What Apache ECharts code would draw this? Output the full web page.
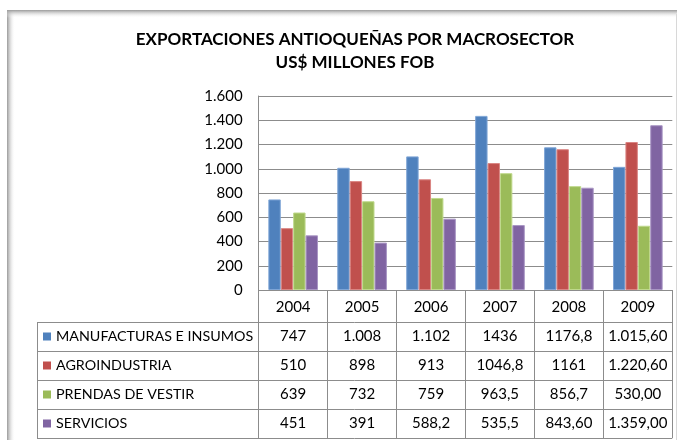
<!DOCTYPE html>
<html>
<head>
<meta charset="utf-8">
<script src="https://cdn.jsdelivr.net/npm/echarts@6/dist/echarts.min.js"></script>
<style>
html,body{margin:0;padding:0;background:#fff;}
#c{width:677px;height:440px;}
</style>
</head>
<body>
<div id="c"></div>
<script>
const years = ['2004', '2005', '2006', '2007', '2008', '2009'];
const seriesNames = ['MANUFACTURAS E INSUMOS', 'AGROINDUSTRIA', 'PRENDAS DE VESTIR', 'SERVICIOS'];
const manufacturas = [747, 1008, 1102, 1436, 1176.8, 1015.6];
const agroindustria = [510, 898, 913, 1046.8, 1161, 1220.6];
const prendas = [639, 732, 759, 963.5, 856.7, 530];
const servicios = [451, 391, 588.2, 535.5, 843.6, 1359];
const manufacturasText = ['747', '1.008', '1.102', '1436', '1176,8', '1.015,60'];
const agroindustriaText = ['510', '898', '913', '1046,8', '1161', '1.220,60'];
const prendasText = ['639', '732', '759', '963,5', '856,7', '530,00'];
const serviciosText = ['451', '391', '588,2', '535,5', '843,60', '1.359,00'];
const yMin = 0, yMax = 1600, yStep = 200;

const colors = ['#4F81BD', '#C0504D', '#9BBB59', '#8064A2'];
const borders = ['#7FA5D6', '#DA8583', '#BFD98C', '#A996C4'];
const allValues = [manufacturas, agroindustria, prendas, servicios];
const allText = [manufacturasText, agroindustriaText, prendasText, serviciosText];
const FONT = 'Lato, "Open Sans", sans-serif';
const gridColor = '#8C8C8C';

const chart = echarts.init(document.getElementById('c'), null, {renderer: 'canvas'});

function fmt(v) {
  return String(v).replace(/\B(?=(\d{3})+(?!\d))/g, '.');
}

const option = {
  animation: false,
  backgroundColor: '#fff',
  title: {
    text: 'EXPORTACIONES ANTIOQUEÑAS POR MACROSECTOR\nUS$ MILLONES FOB',
    left: 350, top: 23, textAlign: 'center',
    textStyle: {fontFamily: FONT, fontWeight: 'bold', fontSize: 17, color: '#000', lineHeight: 23}
  },
  grid: {left: 258.7, right: 4.7, top: 96, bottom: 150, containLabel: false},
  xAxis: {
    type: 'category', data: years,
    axisLine: {show: true, lineStyle: {color: gridColor, width: 1}},
    axisTick: {show: true, length: 148, alignWithLabel: false, lineStyle: {color: gridColor, width: 1}},
    axisLabel: {fontFamily: FONT, fontSize: 15, color: '#000', margin: 10}
  },
  yAxis: {
    type: 'value', min: yMin, max: yMax, interval: yStep,
    axisLine: {show: true, lineStyle: {color: gridColor, width: 1}},
    axisTick: {show: false},
    splitLine: {lineStyle: {color: gridColor, width: 1}},
    axisLabel: {fontFamily: FONT, fontSize: 15, color: '#000', margin: 16, formatter: fmt}
  },
  series: allValues.map((vals, i) => ({
    name: seriesNames[i], type: 'bar', data: vals,
    barGap: '0%', barCategoryGap: '28%',
    itemStyle: {color: colors[i], borderColor: borders[i], borderWidth: 1}
  }))
};
chart.setOption(option);

// Data table below the axis, positioned from the axis scales
const x0 = chart.convertToPixel({xAxisIndex: 0}, 0);
const x1 = chart.convertToPixel({xAxisIndex: 0}, 1);
const colW = x1 - x0;
const yAxisPix = chart.convertToPixel({yAxisIndex: 0}, 0);
const rightEdge = x0 + colW * (years.length - 0.5);
const tableLeft = 37;
const headerH = 32, rowH = 29;
const g = [];
// frame shadow
g.push({type: 'rect', shape: {x: 7, y: 10, width: 8, height: 430}, style: {fill: new echarts.graphic.LinearGradient(0, 0, 1, 0, [{offset: 0, color: '#9a9a9a'}, {offset: 1, color: 'rgba(255,255,255,0)'}])}, z: -1});
g.push({type: 'rect', shape: {x: 7, y: 10, width: 670, height: 8}, style: {fill: new echarts.graphic.LinearGradient(0, 0, 0, 1, [{offset: 0, color: '#9a9a9a'}, {offset: 1, color: 'rgba(255,255,255,0)'}])}, z: -1});
g.push({type: 'line', shape: {x1: 676.5, y1: 14, x2: 676.5, y2: 440}, style: {stroke: '#d8d8d8', lineWidth: 1}});
for (let r = 0; r <= seriesNames.length; r++) {
  const y = Math.round(yAxisPix + headerH + r * rowH) + 0.5;
  g.push({type: 'line', shape: {x1: tableLeft, y1: y, x2: rightEdge, y2: y}, style: {stroke: gridColor, lineWidth: 1}});
}
g.push({type: 'line', shape: {x1: tableLeft + 0.5, y1: Math.round(yAxisPix + headerH) + 0.5, x2: tableLeft + 0.5, y2: Math.round(yAxisPix + headerH + seriesNames.length * rowH) + 0.5}, style: {stroke: gridColor, lineWidth: 1}});
seriesNames.forEach((name, r) => {
  const cy = yAxisPix + headerH + r * rowH + rowH / 2;
  g.push({type: 'rect', shape: {x: 43, y: cy - 4, width: 8, height: 8}, style: {fill: colors[r]}});
  g.push({type: 'text', x: 56, y: cy, style: {text: name, fontFamily: FONT, fontSize: 14.3, fill: '#000', verticalAlign: 'middle', align: 'left'}});
  allText[r].forEach((t, c) => {
    const cx = chart.convertToPixel({xAxisIndex: 0}, c);
    g.push({type: 'text', x: cx, y: cy, style: {text: t, fontFamily: FONT, fontSize: 15, fill: '#000', verticalAlign: 'middle', align: 'center'}});
  });
});
chart.setOption({graphic: g});
</script>
</body>
</html>
